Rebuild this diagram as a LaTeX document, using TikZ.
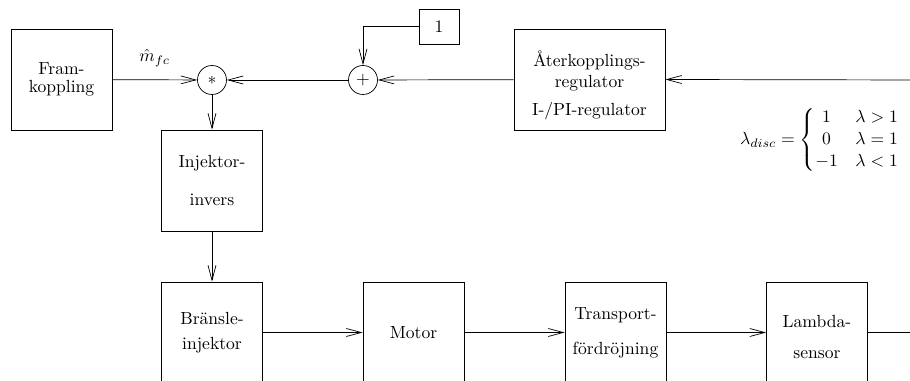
\documentclass[tikz,border=0pt]{standalone}
\usepackage{amsmath,amssymb}
\usepackage{tikz}
\usetikzlibrary{arrows.meta,positioning,calc}

\begin{document}
\begin{tikzpicture}[
    >={Straight Barb[length=3mm,width=1.6mm]},
    blk/.style={rectangle, draw, minimum width=2.02cm, minimum height=2.02cm, align=center, inner sep=1pt},
    junc/.style={circle, draw, minimum size=0.58cm, inner sep=0pt}
]
\useasboundingbox (0,0) rectangle (18.2,7.62);
\clip (0,0) rectangle (18.2,7.62);
% upper branch
\node[blk] (ff) at (1.23,6.03) {Fram-\\[-2pt]koppling};
\node[junc] (mult) at (4.24,6.02) {$*$};
\node[junc] (sum) at (7.26,6.02) {$+$};
\node[draw, minimum width=0.8cm, minimum height=0.7cm] (one) at (8.78,7.09) {1};
\node[blk, minimum width=3.02cm] (fb) at (11.79,6.03) {\rule{0pt}{16pt}\AA terkopplings-\\[0pt]regulator\\[4pt]I-/PI-regulator};
\coordinate (fbin) at (18.4,6.02);
\node (disc) at (16.4,4.82) {$\lambda_{disc}=\left\{\def\arraystretch{1.05}\begin{array}{@{}c@{\quad}l@{}}1 & \lambda>1\\ 0 & \lambda=1\\ -1 & \lambda<1\end{array}\right.$};
% lower branch
\node[blk] (inv) at (4.24,4.01) {Injektor-\\[10pt]invers};
\node[blk] (inj) at (4.24,0.97) {Br\"ansle-\\[2pt]injektor};
\node[blk] (mot) at (8.27,0.97) {Motor};
\node[blk] (del) at (12.31,0.97) {Transport-\\[8pt]f\"ordr\"ojning};
\node[blk] (lam) at (16.34,0.97) {\rule{0pt}{12pt}Lambda-\\[6pt]sensor};
\coordinate (lamout) at (18.4,0.97);

\draw[->] (ff) -- node[above=4pt] {$\hat{m}_{fc}$} (mult);
\draw[->] (sum) -- (mult);
\draw[->] (fb) -- (sum);
\draw[->] (fbin) -- (fb.east);
\draw[->] (one.west) -| (sum.north);
\draw[->] (mult) -- (inv);
\draw[->] (inv) -- (inj);
\draw[->] (inj) -- (mot);
\draw[->] (mot) -- (del);
\draw[->] (del) -- (lam);
\draw (lam) -- (lamout);
\end{tikzpicture}
\end{document}
